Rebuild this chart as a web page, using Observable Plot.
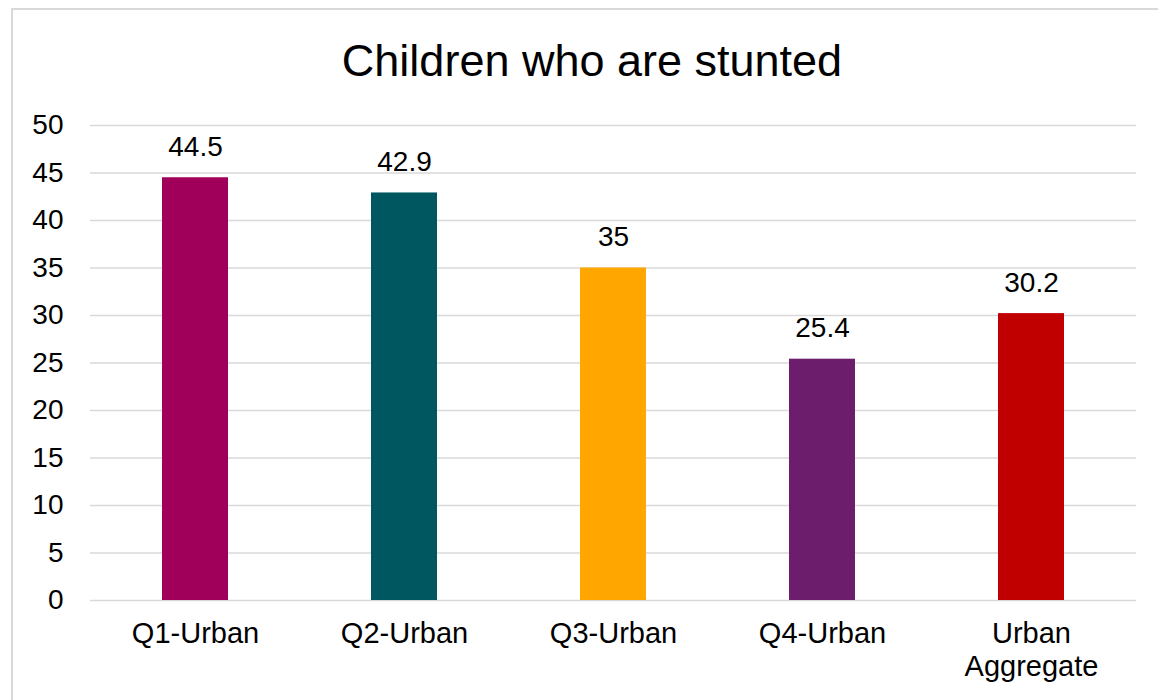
<!DOCTYPE html>
<html>
<head>
<meta charset="utf-8">
<script src="https://cdn.jsdelivr.net/npm/d3@7"></script>
<script src="https://cdn.jsdelivr.net/npm/@observablehq/plot@0.6"></script>
<style>
  html, body { margin: 0; padding: 0; background: #fff; width: 1158px; height: 700px; overflow: hidden; }
  body { position: relative; font-family: "Liberation Sans", Arial, sans-serif; }
  #frame { position: absolute; left: 11px; top: 8px; width: 1300px; height: 800px;
           border-left: 2px solid #d9d9d9; border-top: 2px solid #d9d9d9; }
  #title { position: absolute; left: 0; top: 38px; width: 1184px; text-align: center;
           font-size: 45px; line-height: 45px; color: #000; }
  #chart { position: absolute; left: 0; top: 100px; }
</style>
</head>
<body>
<div id="frame"></div>
<div id="title">Children who are stunted</div>
<div id="chart"></div>
<script>
const categories = ["Q1-Urban", "Q2-Urban", "Q3-Urban", "Q4-Urban", "Urban Aggregate"];
const values = [44.5, 42.9, 35, 25.4, 30.2];
const valueLabels = ["44.5", "42.9", "35", "25.4", "30.2"];
const colors = ["#a1005a", "#00575f", "#ffa600", "#6c1d6c", "#c00000"];
const yTicks = [0, 5, 10, 15, 20, 25, 30, 35, 40, 45, 50];

const data = categories.map((c, i) => ({category: c, value: values[i], label: valueLabels[i]}));

const chart = Plot.plot({
  width: 1158,
  height: 600,
  marginTop: 25,
  marginBottom: 100,
  marginLeft: 90,
  marginRight: 22,
  style: {fontFamily: '"Liberation Sans", Arial, sans-serif', fontSize: "27px", color: "#000", background: "transparent"},
  x: {domain: categories, paddingInner: 0.684, paddingOuter: 0.342, label: null},
  y: {domain: [0, 50], label: null},
  color: {domain: categories, range: colors},
  marks: [
    Plot.gridY(yTicks, {stroke: "#d9d9d9", strokeOpacity: 1, strokeWidth: 1.5}),
    Plot.barY(data, {x: "category", y: "value", fill: "category"}),
    Plot.text(data, {x: "category", y: "value", text: "label", lineAnchor: "bottom", dy: -22, fontSize: 28, fill: "#000"}),
    Plot.axisY(yTicks, {tickSize: 0, tickPadding: 27, fontSize: 28, label: null, tickFormat: d => String(d)}),
    Plot.axisX({tickSize: 0, tickPadding: 19, fontSize: 29, lineHeight: 1.14, label: null,
                tickFormat: d => d.replace(" ", "\n")})
  ]
});
document.getElementById("chart").appendChild(chart);
</script>
</body>
</html>
